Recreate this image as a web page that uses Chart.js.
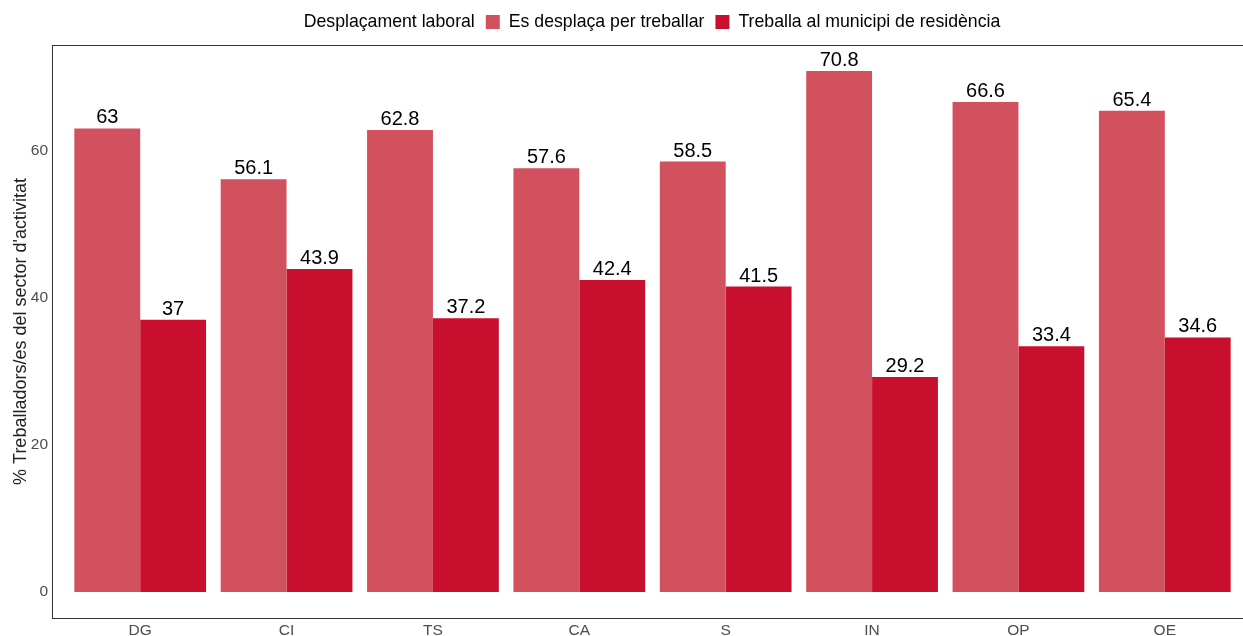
<!DOCTYPE html>
<html>
<head>
<meta charset="utf-8">
<script src="https://cdn.jsdelivr.net/npm/chart.js@4/dist/chart.umd.min.js"></script>
<style>
  html, body { margin: 0; padding: 0; background: #fff; overflow: hidden; }
  #wrap { width: 1243px; height: 636px; position: relative; }
</style>
</head>
<body>
<div id="wrap"><canvas id="chart"></canvas></div>
<script>
// dades: desplaçament laboral per sector d'activitat
const sectors = ['DG', 'CI', 'TS', 'CA', 'S', 'IN', 'OP', 'OE'];
const esDesplaca = [63, 56.1, 62.8, 57.6, 58.5, 70.8, 66.6, 65.4];
const treballaMunicipi = [37, 43.9, 37.2, 42.4, 41.5, 29.2, 33.4, 34.6];
const yTicks = [0, 20, 40, 60];
const legendTitle = 'Desplaçament laboral';
const yTitle = '% Treballadors/es del sector d\'activitat';

const FONT = '"Liberation Sans", Arial, sans-serif';
const colorLight = '#D1515F';
const colorDark = '#C8102E';

// marc del panell (ggplot amplia 0.6 categories a cada costat)
const panelFrame = {
  id: 'panelFrame',
  beforeDraw(chart) {
    const { ctx, chartArea: a } = chart;
    const cat = (a.right - a.left) / sectors.length;
    const ext = cat * 0.1;
    ctx.save();
    ctx.strokeStyle = '#333333';
    ctx.lineWidth = 1;
    ctx.strokeRect(Math.round(a.left - ext) + 0.5, Math.round(a.top) + 0.5,
      (a.right - a.left) + 2 * ext, Math.round(a.bottom - a.top));
    ctx.restore();
  }
};

// etiquetes de valor sobre les barres
const barLabels = {
  id: 'barLabels',
  afterDatasetsDraw(chart) {
    const { ctx } = chart;
    ctx.save();
    ctx.font = '20px ' + FONT;
    ctx.fillStyle = '#000';
    ctx.textAlign = 'center';
    ctx.textBaseline = 'alphabetic';
    chart.data.datasets.forEach((ds, i) => {
      chart.getDatasetMeta(i).data.forEach((bar, j) => {
        ctx.fillText(String(ds.data[j]), bar.x, bar.y - 5);
      });
    });
    ctx.restore();
  }
};

// llegenda horitzontal amb títol a l'esquerra
const topLegend = {
  id: 'topLegend',
  afterDraw(chart) {
    const { ctx } = chart;
    ctx.save();
    ctx.font = '17.7px ' + FONT;
    ctx.textBaseline = 'middle';
    const box = 14, gapBox = 9, gapItem = 11;
    const items = chart.data.datasets.map(ds => ({ label: ds.label, color: ds.backgroundColor }));
    let total = ctx.measureText(legendTitle).width + gapItem;
    items.forEach((it, k) => {
      total += box + gapBox + ctx.measureText(it.label).width + (k < items.length - 1 ? gapItem : 0);
    });
    let x = 652 - total / 2;
    const y = 22;
    ctx.fillStyle = '#000';
    ctx.fillText(legendTitle, x, y);
    x += ctx.measureText(legendTitle).width + gapItem;
    items.forEach(it => {
      ctx.fillStyle = it.color;
      ctx.fillRect(x, y - box / 2, box, box);
      x += box + gapBox;
      ctx.fillStyle = '#000';
      ctx.fillText(it.label, x, y);
      x += ctx.measureText(it.label).width + gapItem;
    });
    ctx.restore();
  }
};

new Chart(document.getElementById('chart'), {
  type: 'bar',
  data: {
    labels: sectors,
    datasets: [
      { label: 'Es desplaça per treballar', data: esDesplaca, backgroundColor: colorLight },
      { label: 'Treballa al municipi de residència', data: treballaMunicipi, backgroundColor: colorDark }
    ]
  },
  options: {
    responsive: true,
    maintainAspectRatio: false,
    animation: false,
    layout: { padding: { top: 45, right: 5, left: 0, bottom: 0 } },
    datasets: { bar: { categoryPercentage: 0.9, barPercentage: 1.0 } },
    plugins: {
      legend: { display: false },
      tooltip: { enabled: false }
    },
    scales: {
      x: {
        grid: { display: false, drawTicks: false },
        border: { display: false },
        ticks: { color: '#4D4D4D', font: { family: FONT, size: 15.5 }, padding: 3 },
        afterFit(scale) { scale.height = 18; }
      },
      y: {
        min: -3.54,
        max: 74.34,
        grid: { display: false, drawTicks: false },
        border: { display: false },
        afterBuildTicks(scale) { scale.ticks = yTicks.map(v => ({ value: v })); },
        ticks: { color: '#4D4D4D', font: { family: FONT, size: 15.5 }, padding: 19 },
        title: {
          display: true,
          text: yTitle,
          color: '#222',
          font: { family: FONT, size: 18 },
          padding: { top: 10, bottom: 4 }
        },
        afterFit(scale) {
          scale.width = 67;
          scale.paddingTop = 0;
          scale.paddingBottom = 0;
        }
      }
    }
  },
  plugins: [panelFrame, barLabels, topLegend]
});
</script>
</body>
</html>
